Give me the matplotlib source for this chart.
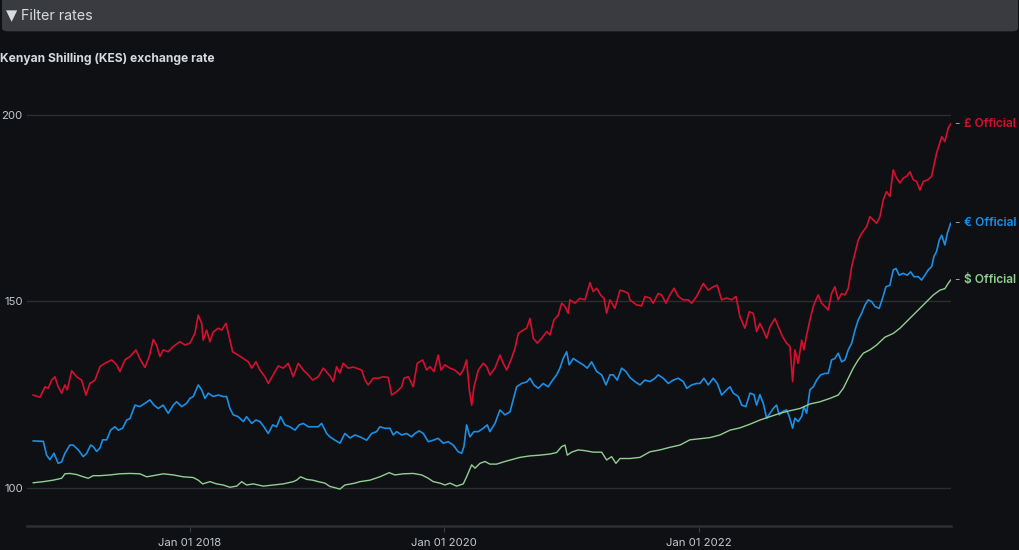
import numpy as np
import pandas as pd
import matplotlib
matplotlib.use("Agg")
import matplotlib.pyplot as plt
import matplotlib.dates as mdates
from matplotlib.patches import FancyBboxPatch

plt.rcParams['font.family'] = ['Inter', 'DejaVu Sans']

# -------------------------
# Data (time in decimal years)
# -------------------------
gbp_t = [2016.773, 2016.826, 2016.865, 2016.891, 2016.918, 2016.943, 2016.969, 2016.996, 2017.022, 2017.040,
         2017.075, 2017.114, 2017.153, 2017.187, 2017.218, 2017.258, 2017.297, 2017.336, 2017.389, 2017.428,
         2017.454, 2017.493, 2017.533, 2017.580, 2017.611, 2017.650, 2017.684, 2017.716, 2017.742, 2017.768,
         2017.794, 2017.833, 2017.873, 2017.925, 2017.965, 2018.004, 2018.043, 2018.069, 2018.096, 2018.108,
         2018.135, 2018.161, 2018.187, 2018.226, 2018.253, 2018.287, 2018.318, 2018.339, 2018.383, 2018.423,
         2018.462, 2018.489, 2018.522, 2018.554, 2018.593, 2018.619, 2018.658, 2018.698, 2018.737, 2018.776,
         2018.815, 2018.855, 2018.894, 2018.933, 2018.968, 2019.012, 2019.051, 2019.086, 2019.104, 2019.130,
         2019.156, 2019.182, 2019.208, 2019.247, 2019.287, 2019.353, 2019.379, 2019.404, 2019.444, 2019.483,
         2019.522, 2019.562, 2019.588, 2019.628, 2019.667, 2019.685, 2019.719, 2019.758, 2019.789, 2019.832,
         2019.863, 2019.889, 2019.921, 2019.954, 2019.976, 2020.007, 2020.046, 2020.085, 2020.125, 2020.151,
         2020.177, 2020.198, 2020.217, 2020.235, 2020.269, 2020.308, 2020.335, 2020.360, 2020.400, 2020.439,
         2020.465, 2020.492, 2020.531, 2020.557, 2020.583, 2020.622, 2020.649, 2020.675, 2020.701, 2020.732,
         2020.767, 2020.806, 2020.832, 2020.863, 2020.897, 2020.924, 2020.950, 2020.975, 2020.989, 2021.028,
         2021.067, 2021.107, 2021.146, 2021.172, 2021.199, 2021.230, 2021.256, 2021.277, 2021.303, 2021.342,
         2021.382, 2021.421, 2021.447, 2021.460, 2021.513, 2021.552, 2021.578, 2021.617, 2021.643, 2021.682,
         2021.709, 2021.743, 2021.774, 2021.806, 2021.840, 2021.879, 2021.918, 2021.945, 2021.984, 2022.036,
         2022.075, 2022.114, 2022.146, 2022.180, 2022.220, 2022.259, 2022.293, 2022.324, 2022.363, 2022.397,
         2022.429, 2022.455, 2022.481, 2022.507, 2022.534, 2022.560, 2022.599, 2022.625, 2022.660, 2022.691,
         2022.717, 2022.738, 2022.756, 2022.782, 2022.809, 2022.827, 2022.848, 2022.874, 2022.900, 2022.921,
         2022.939, 2022.966, 2022.992, 2023.018, 2023.044, 2023.070, 2023.096, 2023.123, 2023.149, 2023.175,
         2023.202, 2023.228, 2023.253, 2023.280, 2023.319, 2023.345, 2023.371, 2023.398, 2023.424, 2023.450,
         2023.476, 2023.502, 2023.528, 2023.555, 2023.581, 2023.607, 2023.634, 2023.660, 2023.685, 2023.712,
         2023.738, 2023.764, 2023.803, 2023.830, 2023.848, 2023.869, 2023.909, 2023.934, 2023.960, 2023.979]
gbp = [124.9, 124.3, 127.1, 126.7, 128.9, 129.8, 127.1, 125.4, 127.6, 126.3,
       131.4, 129.8, 128.9, 124.9, 128.0, 128.9, 132.5, 133.4, 134.3, 133.0,
       131.2, 134.3, 135.2, 137.0, 134.6, 132.3, 135.2, 139.8, 138.2, 135.2,
       137.0, 136.5, 137.9, 139.2, 138.3, 138.8, 141.4, 146.3, 144.1, 139.6,
       142.3, 139.2, 141.8, 142.8, 142.3, 144.1, 139.6, 136.5, 135.6, 134.7,
       133.8, 132.1, 133.8, 131.6, 129.8, 128.0, 130.3, 132.7, 132.1, 133.4,
       129.8, 133.4, 131.6, 130.3, 128.9, 129.8, 132.1, 130.7, 130.0, 128.5,
       132.5, 130.8, 133.4, 132.1, 132.4, 131.6, 128.9, 127.6, 129.4, 129.4,
       129.8, 129.6, 124.9, 125.8, 127.1, 129.4, 129.8, 127.1, 133.4, 134.3,
       131.6, 132.5, 131.2, 135.6, 131.6, 133.0, 132.1, 131.6, 130.3, 131.6,
       134.3, 126.3, 122.2, 127.1, 131.6, 133.4, 132.5, 130.3, 132.1, 135.6,
       133.4, 131.6, 134.8, 137.4, 141.4, 142.3, 142.8, 145.4, 140.1, 138.8,
       140.1, 141.9, 141.0, 145.0, 146.3, 149.5, 148.6, 146.8, 150.4, 149.5,
       150.8, 150.4, 155.0, 152.6, 153.5, 151.7, 150.8, 146.8, 150.4, 148.1,
       153.0, 152.6, 152.1, 150.4, 149.0, 148.8, 151.3, 150.9, 149.5, 152.1,
       151.7, 149.5, 151.7, 153.5, 151.3, 150.4, 150.4, 149.5, 151.3, 154.8,
       153.0, 153.9, 154.3, 150.4, 150.9, 150.4, 151.3, 145.9, 142.8, 147.2,
       146.8, 141.9, 144.1, 142.3, 140.1, 143.2, 145.4, 143.2, 140.5, 138.8,
       137.9, 128.5, 137.0, 133.4, 139.6, 137.0, 141.0, 145.0, 148.6, 150.4,
       151.7, 149.5, 148.6, 147.7, 152.1, 153.9, 150.4, 152.1, 151.7, 153.5,
       159.3, 162.9, 166.4, 168.2, 170.0, 172.7, 171.8, 170.9, 172.7, 177.2,
       179.4, 178.1, 185.2, 183.0, 181.7, 183.0, 183.5, 184.7, 182.6, 182.1,
       179.8, 182.1, 182.6, 183.5, 186.5, 189.7, 194.1, 192.8, 196.4, 197.5]

eur_t = [2016.773, 2016.852, 2016.878, 2016.904, 2016.936, 2016.969, 2016.996, 2017.022, 2017.061, 2017.087,
         2017.127, 2017.166, 2017.193, 2017.224, 2017.244, 2017.271, 2017.297, 2017.318, 2017.350, 2017.381,
         2017.415, 2017.441, 2017.475, 2017.507, 2017.533, 2017.572, 2017.611, 2017.650, 2017.690, 2017.721,
         2017.755, 2017.794, 2017.833, 2017.873, 2017.899, 2017.939, 2017.978, 2018.004, 2018.030, 2018.069,
         2018.096, 2018.122, 2018.148, 2018.187, 2018.226, 2018.265, 2018.292, 2018.318, 2018.344, 2018.383,
         2018.423, 2018.449, 2018.489, 2018.522, 2018.554, 2018.585, 2018.619, 2018.654, 2018.685, 2018.716,
         2018.750, 2018.789, 2018.829, 2018.862, 2018.894, 2018.933, 2018.972, 2019.012, 2019.038, 2019.078,
         2019.104, 2019.143, 2019.182, 2019.221, 2019.261, 2019.300, 2019.339, 2019.392, 2019.431, 2019.470,
         2019.496, 2019.536, 2019.575, 2019.601, 2019.628, 2019.667, 2019.706, 2019.745, 2019.771, 2019.805,
         2019.837, 2019.876, 2019.915, 2019.954, 2019.994, 2020.033, 2020.072, 2020.111, 2020.138, 2020.156,
         2020.177, 2020.203, 2020.235, 2020.269, 2020.308, 2020.339, 2020.360, 2020.400, 2020.439, 2020.478,
         2020.518, 2020.543, 2020.570, 2020.609, 2020.649, 2020.675, 2020.706, 2020.740, 2020.779, 2020.818,
         2020.853, 2020.884, 2020.910, 2020.936, 2020.963, 2020.983, 2021.015, 2021.054, 2021.093, 2021.125,
         2021.159, 2021.199, 2021.238, 2021.272, 2021.303, 2021.329, 2021.360, 2021.395, 2021.429, 2021.460,
         2021.499, 2021.539, 2021.578, 2021.617, 2021.657, 2021.682, 2021.722, 2021.761, 2021.800, 2021.840,
         2021.879, 2021.906, 2021.945, 2021.984, 2022.010, 2022.041, 2022.075, 2022.114, 2022.146, 2022.180,
         2022.220, 2022.246, 2022.272, 2022.311, 2022.338, 2022.371, 2022.403, 2022.434, 2022.455, 2022.481,
         2022.507, 2022.534, 2022.560, 2022.586, 2022.612, 2022.633, 2022.660, 2022.691, 2022.711, 2022.738,
         2022.756, 2022.782, 2022.809, 2022.827, 2022.848, 2022.874, 2022.900, 2022.927, 2022.958, 2022.992,
         2023.018, 2023.044, 2023.070, 2023.096, 2023.123, 2023.149, 2023.175, 2023.202, 2023.228, 2023.253,
         2023.280, 2023.306, 2023.332, 2023.359, 2023.385, 2023.418, 2023.445, 2023.471, 2023.502, 2023.528,
         2023.550, 2023.575, 2023.607, 2023.638, 2023.665, 2023.691, 2023.725, 2023.751, 2023.777, 2023.803,
         2023.830, 2023.848, 2023.869, 2023.890, 2023.909, 2023.934, 2023.953, 2023.979]
eur = [112.6, 112.5, 108.8, 107.6, 109.3, 106.6, 107.0, 109.3, 111.5, 111.5,
       110.2, 108.4, 109.3, 111.5, 111.1, 109.8, 110.7, 112.9, 112.9, 115.5,
       116.4, 115.5, 116.0, 118.2, 118.6, 122.2, 121.8, 122.7, 123.6, 122.2,
       121.3, 122.2, 120.0, 122.2, 123.1, 121.8, 122.7, 124.0, 124.5, 127.6,
       126.3, 124.0, 125.4, 124.5, 124.9, 124.5, 124.5, 121.3, 119.6, 119.1,
       117.8, 119.1, 117.3, 118.2, 117.8, 116.4, 114.6, 116.9, 116.4, 119.1,
       116.9, 116.4, 115.5, 116.9, 117.3, 116.4, 116.4, 116.4, 117.3, 114.6,
       113.7, 112.8, 112.0, 114.6, 113.4, 114.2, 113.7, 112.8, 114.6, 115.1,
       116.4, 116.0, 116.0, 114.2, 115.1, 114.2, 114.6, 113.7, 114.6, 115.3,
       114.6, 112.4, 112.8, 113.3, 112.0, 112.4, 111.5, 109.7, 109.3, 111.1,
       116.9, 113.7, 115.1, 115.1, 116.0, 116.9, 115.1, 117.3, 120.9, 119.6,
       120.4, 123.6, 127.1, 128.0, 128.4, 129.4, 127.6, 126.7, 128.0, 127.1,
       128.9, 130.3, 132.1, 134.7, 136.5, 133.0, 134.7, 133.8, 133.0, 132.1,
       133.8, 131.2, 130.3, 127.6, 130.3, 130.3, 128.9, 132.1, 131.2, 129.6,
       128.5, 127.6, 128.9, 128.5, 129.4, 130.3, 129.4, 128.0, 128.9, 129.4,
       128.5, 126.7, 127.6, 128.0, 128.0, 129.4, 127.6, 129.4, 128.0, 124.9,
       126.3, 127.1, 125.4, 124.5, 122.2, 121.8, 125.4, 125.0, 122.2, 125.0,
       122.7, 118.7, 120.0, 121.3, 122.2, 119.6, 120.5, 120.9, 119.2, 116.0,
       118.7, 117.8, 119.2, 121.8, 120.0, 126.3, 127.1, 128.9, 130.3, 130.7,
       130.7, 134.3, 134.7, 136.1, 133.8, 134.3, 137.0, 138.8, 142.3, 145.0,
       146.8, 149.0, 150.4, 149.9, 148.6, 148.1, 150.9, 153.9, 154.3, 158.4,
       158.8, 157.0, 157.5, 157.0, 157.9, 156.6, 156.6, 155.7, 157.0, 158.4,
       159.3, 162.0, 163.4, 166.4, 167.7, 165.1, 168.2, 170.9]

usd_t = [2016.773, 2016.852, 2016.930, 2016.996, 2017.022, 2017.061, 2017.114, 2017.166, 2017.205, 2017.244,
         2017.297, 2017.376, 2017.454, 2017.533, 2017.611, 2017.664, 2017.716, 2017.794, 2017.873, 2017.951,
         2018.030, 2018.069, 2018.104, 2018.161, 2018.214, 2018.265, 2018.318, 2018.371, 2018.410, 2018.449,
         2018.501, 2018.580, 2018.658, 2018.737, 2018.815, 2018.842, 2018.873, 2018.921, 2018.968, 2019.012,
         2019.064, 2019.104, 2019.130, 2019.182, 2019.221, 2019.300, 2019.339, 2019.418, 2019.496, 2019.569,
         2019.614, 2019.679, 2019.758, 2019.824, 2019.876, 2019.915, 2019.968, 2020.007, 2020.046, 2020.099,
         2020.151, 2020.177, 2020.217, 2020.243, 2020.282, 2020.321, 2020.360, 2020.413, 2020.478, 2020.543,
         2020.596, 2020.675, 2020.753, 2020.832, 2020.884, 2020.924, 2020.950, 2020.968, 2021.002, 2021.054,
         2021.107, 2021.172, 2021.238, 2021.277, 2021.316, 2021.350, 2021.382, 2021.434, 2021.460, 2021.539,
         2021.617, 2021.696, 2021.774, 2021.853, 2021.931, 2022.010, 2022.089, 2022.167, 2022.246, 2022.324,
         2022.403, 2022.481, 2022.560, 2022.638, 2022.717, 2022.796, 2022.874, 2022.953, 2023.031, 2023.096,
         2023.136, 2023.175, 2023.214, 2023.253, 2023.293, 2023.345, 2023.398, 2023.463, 2023.528, 2023.581,
         2023.634, 2023.685, 2023.738, 2023.791, 2023.843, 2023.895, 2023.934, 2023.960, 2023.979]
usd = [101.4, 101.7, 102.1, 102.6, 103.8, 103.9, 103.6, 103.0, 102.6, 103.3,
       103.3, 103.5, 103.8, 103.9, 103.8, 103.0, 103.3, 103.8, 103.5, 103.0,
       102.8, 102.1, 101.1, 101.7, 101.1, 100.8, 100.2, 100.5, 101.7, 100.8,
       101.1, 100.5, 100.8, 101.1, 101.7, 102.1, 103.0, 102.3, 102.1, 101.7,
       101.3, 100.4, 100.2, 99.7, 100.8, 101.3, 101.7, 102.1, 103.0, 104.1,
       103.5, 103.8, 103.9, 103.5, 102.6, 101.7, 101.3, 100.8, 101.3, 100.5,
       101.1, 103.0, 106.2, 105.3, 106.6, 107.1, 106.4, 106.4, 107.1, 107.7,
       108.2, 108.6, 108.8, 109.1, 109.5, 111.1, 111.5, 108.8, 109.6, 110.2,
       110.0, 109.6, 109.6, 107.5, 108.4, 106.6, 107.9, 107.9, 107.9, 108.2,
       109.7, 110.2, 110.9, 111.5, 112.9, 113.2, 113.5, 114.2, 115.5, 116.1,
       117.1, 118.2, 119.1, 120.0, 120.7, 121.3, 122.5, 123.1, 124.0, 124.9,
       126.7, 129.4, 132.1, 134.3, 136.1, 137.0, 138.3, 140.4, 141.4, 142.8,
       144.6, 146.3, 148.1, 149.9, 151.7, 153.0, 153.4, 154.8, 155.7]

series_labels = ["£ Official", "€ Official", "$ Official"]
series_colors = ["#d5102f", "#1b8fe6", "#93cf93"]
y_ticks = [100, 150, 200]
x_tick_dates = ["2018-01-01", "2020-01-01", "2022-01-01"]


def to_dates(t):
    t = np.asarray(t)
    return pd.Timestamp("2016-01-01") + pd.to_timedelta((t - 2016) * 365.25, unit="D")


bg = "#0e1013"
fig = plt.figure(figsize=(10.2, 5.5), dpi=100, facecolor=bg)

# top "filter" bar
bar = FancyBboxPatch((0.002, 0.943), 0.996, 0.062, boxstyle="round,pad=0,rounding_size=0.006",
                     transform=fig.transFigure, facecolor="#393b40", edgecolor="none")
fig.patches.append(bar)
fig.text(0.006, 0.971, "▼", color="#d8dbe0", fontsize=10.5, va="center", ha="left",
         family=['DejaVu Sans'])
fig.text(0.021, 0.970, "Filter rates", color="#d8dbe0", fontsize=10.3, va="center", ha="left")

fig.text(0.0, 0.894, "Kenyan Shilling (KES) exchange rate", color="#d6dae0", fontsize=8.7,
         fontweight="bold", va="center", ha="left")

ax = fig.add_axes([27 / 1020, 24.3 / 550, 924 / 1020, 429.7 / 550])
ax.set_facecolor(bg)

for t, v, c in [(gbp_t, gbp, series_colors[0]), (eur_t, eur, series_colors[1]), (usd_t, usd, series_colors[2])]:
    lw = 1.0 if c == series_colors[2] else 1.2
    ax.plot(to_dates(t), v, color=c, lw=lw)

# end labels
for t, v, lab, c in [(gbp_t, gbp, series_labels[0], series_colors[0]),
                     (eur_t, eur, series_labels[1], series_colors[1]),
                     (usd_t, usd, series_labels[2], series_colors[2])]:
    xd = to_dates([t[-1]])[0]
    ax.annotate("-", xy=(xd, v[-1]), xytext=(2.5, 0), textcoords="offset points",
                color="#9a9ea4", fontsize=8.6, va="center", ha="left", annotation_clip=False)
    ax.annotate(lab, xy=(xd, v[-1]), xytext=(9.4, 0), textcoords="offset points",
                color=c, fontsize=8.6, fontweight="semibold", va="center", ha="left",
                annotation_clip=False)

ax.set_ylim(89.9, 205)
ax.set_xlim(to_dates([2016.724])[0], to_dates([2023.982])[0])
ax.set_yticks(y_ticks)
ax.set_yticklabels([str(y) for y in y_ticks])
ax.set_xticks(pd.to_datetime(x_tick_dates))
ax.xaxis.set_major_formatter(mdates.DateFormatter("%b %d %Y"))
ax.grid(axis="y", color="#2c2e32", lw=1.0)
ax.set_axisbelow(True)
for s in ["top", "right", "left"]:
    ax.spines[s].set_visible(False)
ax.spines["bottom"].set_color("#2c2e32")
ax.spines["bottom"].set_linewidth(1.8)
ax.tick_params(axis="y", length=0, pad=3, labelcolor="#c4c8ce", labelsize=8.2)
ax.tick_params(axis="x", length=4, width=0.8, color="#3a3c40", pad=5, labelcolor="#c4c8ce", labelsize=8.2)

plt.savefig("out.png", dpi=100, facecolor=bg)
